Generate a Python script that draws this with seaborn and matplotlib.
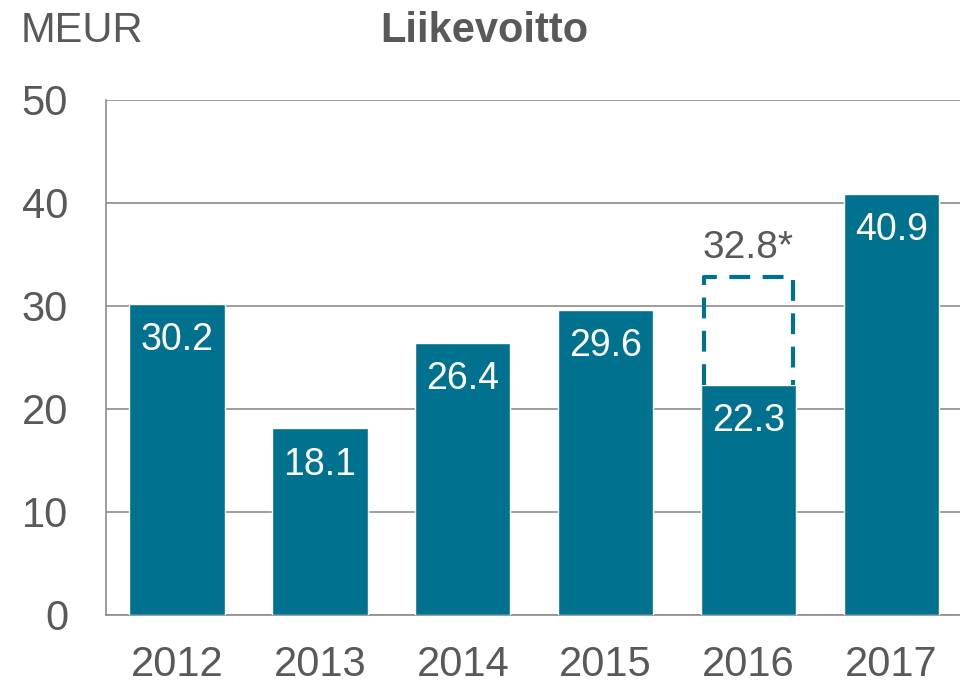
import matplotlib
matplotlib.use("Agg")
import matplotlib.pyplot as plt
import pandas as pd
import seaborn as sns

# Data
years = ["2012", "2013", "2014", "2015", "2016", "2017"]
operating_profit = [30.2, 18.1, 26.4, 29.6, 22.3, 40.9]
adjusted_year = "2016"
adjusted_value = 32.8
adjusted_label = "32.8*"

BAR_COLOR = "#00718f"
TEXT_COLOR = "#595959"
GRID_COLOR = "#8c8c8c"
BAR_WIDTH = 0.667

sns.set_style("white")
plt.rcParams["font.family"] = ["Liberation Sans", "DejaVu Sans"]

df = pd.DataFrame({"year": years, "value": operating_profit})

fig = plt.figure(figsize=(9.6, 6.84), dpi=100)
ax = fig.add_axes([0.110, 0.101, 0.890, 0.753])

sns.barplot(data=df, x="year", y="value", color=BAR_COLOR, saturation=1,
            width=BAR_WIDTH, ax=ax, zorder=3)

# Dashed outline (three sides) for the adjusted 2016 figure
idx = years.index(adjusted_year)
base = operating_profit[idx]
half = BAR_WIDTH / 2 - 0.02
ax.plot([idx - half, idx - half, idx + half, idx + half],
        [base, adjusted_value, adjusted_value, base],
        color=BAR_COLOR, linewidth=3, linestyle=(0, (5, 3)),
        solid_joinstyle="miter", zorder=4)
ax.annotate(adjusted_label, (idx, adjusted_value), xytext=(0, 21),
            textcoords="offset points", ha="center", va="center",
            fontsize=28, color=TEXT_COLOR)

# Value labels inside bars
for i, v in enumerate(operating_profit):
    ax.annotate(f"{v:.1f}", (i, v), xytext=(0, -26), textcoords="offset points",
                ha="center", va="center", fontsize=27, color="white", zorder=5)

ax.set_ylim(0, 50)
ax.set_xlim(-0.5, 5.48)
ax.set_yticks([0, 10, 20, 30, 40, 50])
ax.set_xlabel("")
ax.set_ylabel("")
ax.yaxis.grid(True, color=GRID_COLOR, linewidth=1.2, zorder=0)
ax.set_axisbelow(True)
ax.tick_params(axis="both", length=0, labelsize=30, labelcolor=TEXT_COLOR)
ax.tick_params(axis="y", pad=27)
ax.tick_params(axis="x", pad=22)

for side in ["top", "right"]:
    ax.spines[side].set_visible(False)
for side in ["left", "bottom"]:
    ax.spines[side].set_color(GRID_COLOR)
    ax.spines[side].set_linewidth(1.2)

fig.text(0.021, 0.955, "MEUR", fontsize=30, color=TEXT_COLOR, va="center", ha="left")
fig.text(0.504, 0.955, "Liikevoitto", fontsize=30, fontweight="bold",
         color=TEXT_COLOR, va="center", ha="center")

fig.savefig("out.png", dpi=100)
